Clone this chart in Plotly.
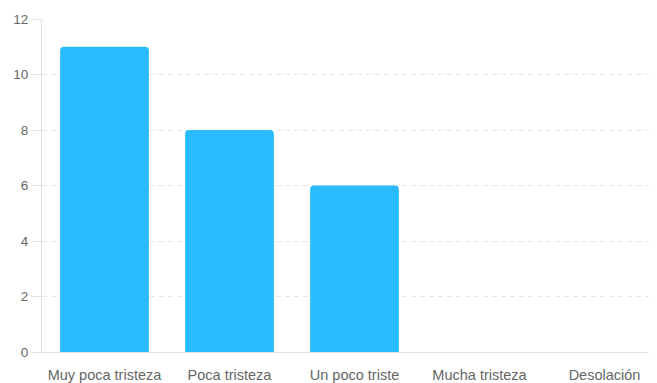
import plotly.graph_objects as go

categories = ["Muy poca tristeza", "Poca tristeza", "Un poco triste", "Mucha tristeza", "Desolación"]
values = [11, 8, 6, 0, 0]
y_ticks = [0, 2, 4, 6, 8, 10, 12]

fig = go.Figure(
    go.Bar(
        x=categories,
        y=values,
        width=0.71,
        marker=dict(color="#29bbfd", cornerradius=4, line=dict(width=0)),
        hoverinfo="x+y",
    )
)

# the page body adds an 8px offset, so the figure is sized to fit the window
fig.update_layout(
    width=649,
    height=375,
    margin=dict(l=34, r=0, t=11, b=28),
    paper_bgcolor="white",
    plot_bgcolor="white",
    font=dict(family="Liberation Sans, Arial, sans-serif", size=13, color="#666666"),
    showlegend=False,
)

fig.update_xaxes(
    range=[-0.5, 4.42],
    showline=True,
    linecolor="#e3e3e3",
    linewidth=1,
    showgrid=False,
    ticks="",
    tickfont=dict(size=14.5, color="#666666"),
    ticklabelstandoff=10,
)

fig.update_yaxes(
    range=[0, 12],
    tickvals=y_ticks,
    showline=True,
    linecolor="#e3e3e3",
    linewidth=1,
    ticks="outside",
    ticklen=10,
    tickcolor="#e3e3e3",
    showgrid=True,
    gridcolor="#e6e6e6",
    griddash="5px,4px",
    zeroline=False,
    tickfont=dict(size=13.5, color="#666666"),
)

fig.write_html("out.html")
